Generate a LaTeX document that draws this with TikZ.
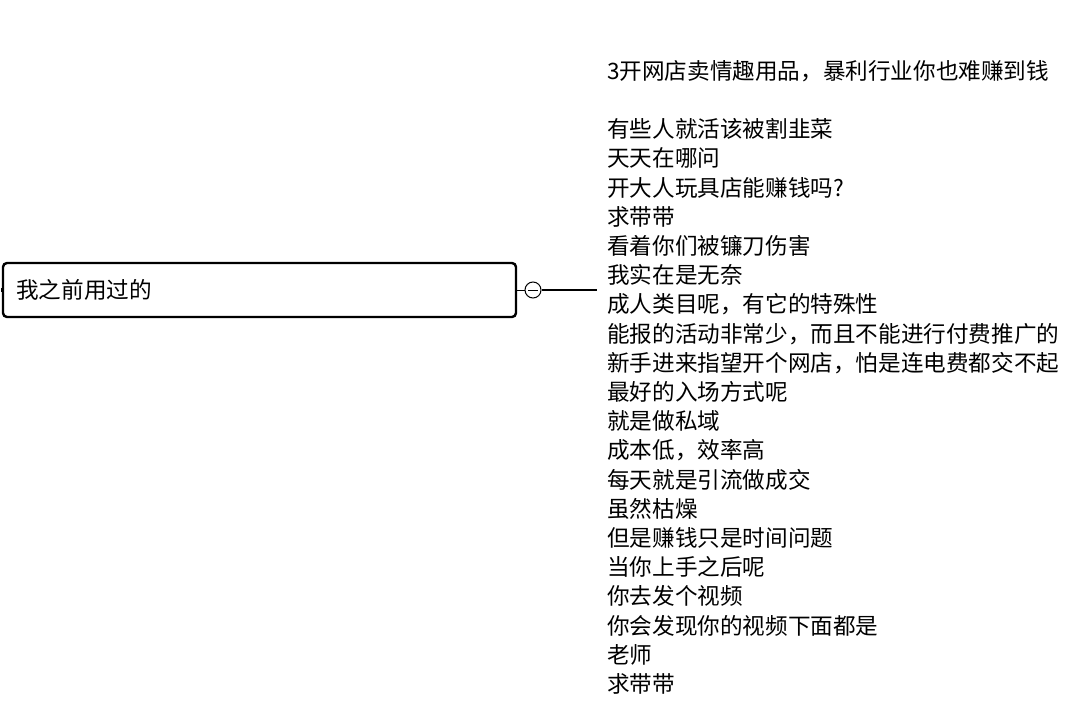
\documentclass[tikz,border=0pt]{standalone}
\usepackage{fontspec}
\setmainfont{Noto Sans CJK SC}
\begin{document}
\begin{tikzpicture}[x=1pt,y=-1pt,
  topic/.style={draw=black,line width=2.4pt,rounded corners=4pt,minimum width=513pt,minimum height=54pt,inner sep=0pt},
  ttext/.style={font=\fontsize{22.6}{29.2}\selectfont,text=black},
  foldmark/.style={draw=black,line width=1pt,circle,minimum size=16pt,inner sep=0pt},
  link/.style={draw=black,line width=2pt}]
\useasboundingbox (0,0) rectangle (1080,701);
\node[topic] (main) at (259.5,290) {};
\node[ttext,anchor=west,inner sep=0pt] (mlabel) at (16,290) {我之前用过的};
\node[foldmark] (fold) at (533,290) {};
\draw[line width=1pt] (fold.center) ++(-5,0) -- ++(10,0);
\draw[line width=1pt] (main.east) -- (fold.west);
\draw[line width=0.8pt] (main.west) ++(0,-2) -- ++(0,4);
\node[ttext,anchor=north west,align=left,inner sep=10pt] (notes) at (597,50) {3开网店卖情趣用品，暴利行业你也难赚到钱\\[29.2pt]
有些人就活该被割韭菜\\
天天在哪问\\
开大人玩具店能赚钱吗?\\
求带带\\
看着你们被镰刀伤害\\
我实在是无奈\\
成人类目呢，有它的特殊性\\
能报的活动非常少，而且不能进行付费推广的\\
新手进来指望开个网店，怕是连电费都交不起\\
最好的入场方式呢\\
就是做私域\\
成本低，效率高\\
每天就是引流做成交\\
虽然枯燥\\
但是赚钱只是时间问题\\
当你上手之后呢\\
你去发个视频\\
你会发现你的视频下面都是\\
老师\\
求带带};
\draw[link] (fold.east) -- (fold.east -| notes.west);
\end{tikzpicture}
\end{document}
